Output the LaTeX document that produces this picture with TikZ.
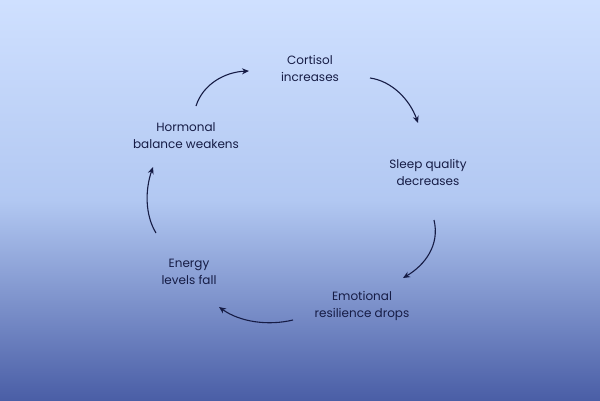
\documentclass[tikz,border=0pt]{standalone}
\usepackage{fontspec}
\setmainfont{Poppins}
\usetikzlibrary{arrows.meta}
\definecolor{navy}{HTML}{161C45}
\definecolor{topc}{HTML}{CFE0FF}
\definecolor{midc}{HTML}{B2C8F2}
\definecolor{botc}{HTML}{4A5EA6}
\tikzset{lbl/.style={align=center,text=navy,font=\fontsize{12}{17}\selectfont},
 arr/.style={draw=navy,line width=1.1pt,-{Stealth[length=7pt,width=6pt]}}}
\begin{document}
\begin{tikzpicture}[x=1pt,y=-1pt]
\shade[top color=topc,bottom color=botc,middle color=midc] (0,0) rectangle (600,400);
\useasboundingbox (0,0) rectangle (600,400);
\node[lbl] (c) at (310,68) {Cortisol\\increases};
\node[lbl] (s) at (428,172) {Sleep quality\\decreases};
\node[lbl] (e) at (362,306) {Emotional\\resilience drops};
\node[lbl] (f) at (189,272) {Energy\\levels fall};
\node[lbl] (h) at (186,136) {Hormonal\\balance weakens};
\coordinate (a1s) at (196,106); \coordinate (a1e) at (249,71);
\coordinate (a2s) at (370,78); \coordinate (a2e) at (418,123);
\coordinate (a3s) at (434,220); \coordinate (a3e) at (403,278);
\coordinate (a4s) at (293,320); \coordinate (a4e) at (219,307);
\coordinate (a5s) at (156,233); \coordinate (a5e) at (153,167);
\draw[arr] (a1s) .. controls (203,84) and (225,72) .. (a1e);
\draw[arr] (a2s) .. controls (392,81) and (410,100) .. (a2e);
\draw[arr] (a3s) .. controls (440,245) and (425,265) .. (a3e);
\draw[arr] (a4s) .. controls (268,326) and (240,322) .. (a4e);
\draw[arr] (a5s) .. controls (145,215) and (145,190) .. (a5e);
\end{tikzpicture}
\end{document}
